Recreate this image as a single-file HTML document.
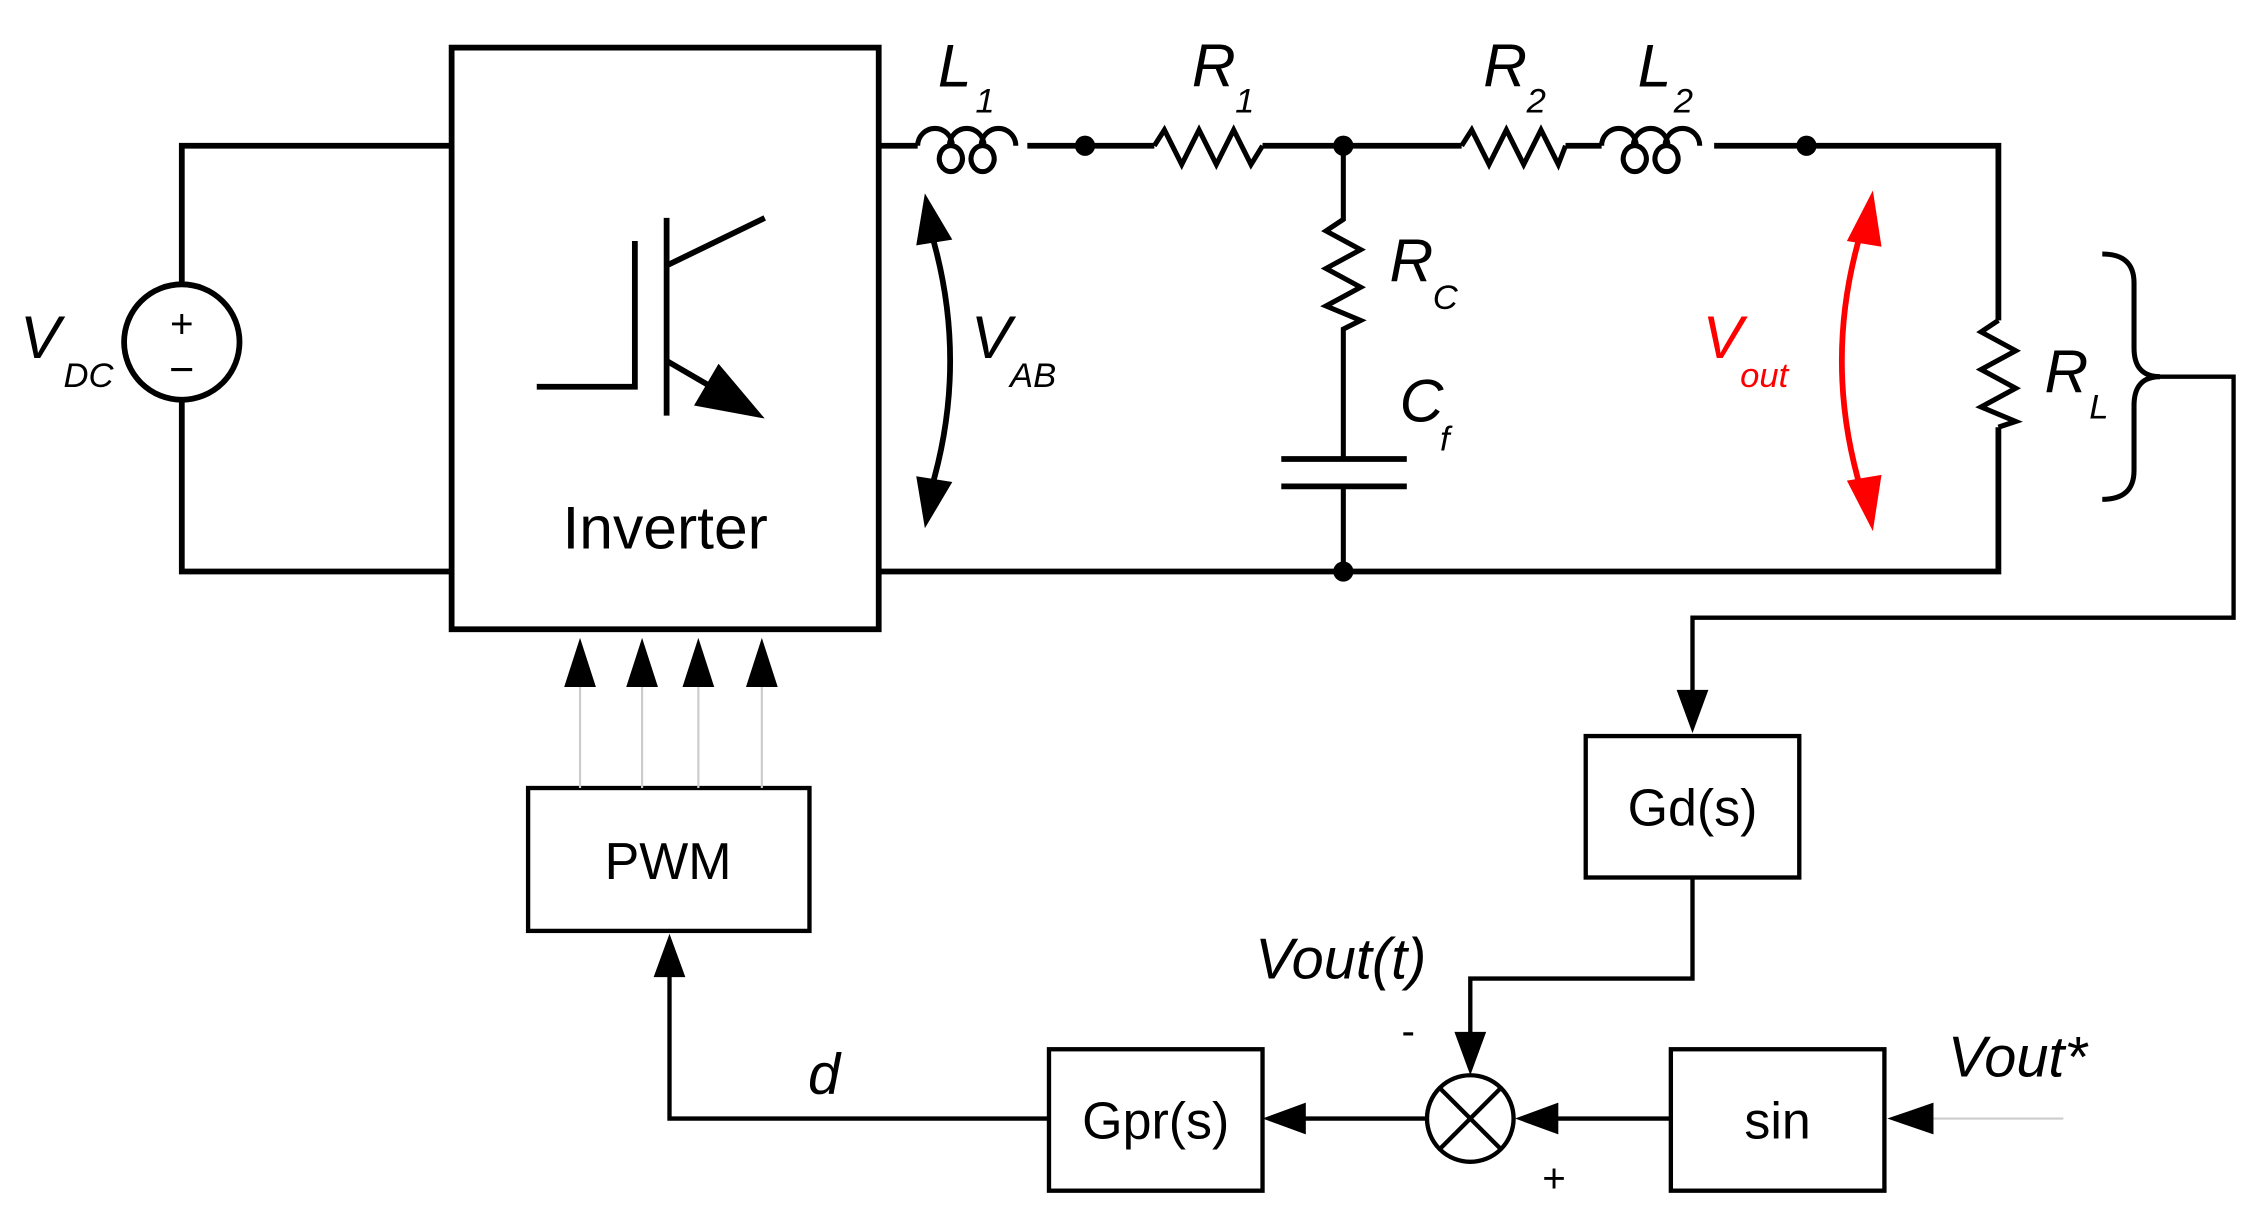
<!DOCTYPE html>
<html><head><style>html,body{margin:0;padding:0;background:#fff}svg{display:block}</style></head><body>
<svg width="2261" height="1221" viewBox="0 0 1567 846" preserveAspectRatio="none" xmlns="http://www.w3.org/2000/svg" font-family="Liberation Sans, sans-serif">
<g fill="none" stroke="#000" stroke-width="4">
<rect x="313" y="33" width="296" height="403"/>
<path d="M313,101 H126 V197 M126,277 V396 H313"/>
<circle cx="126" cy="237" r="40"/>
<path d="M372,268 H440 V167 M462,151 V288 M462,184 L530,151 M462,250 L505,275"/>
<path d="M609,101 H636 M712,101 H800 M875,101 H1013 M1085,101 H1110 M1188,101 H1385 V222 M1385,296 V396 H609"/>
<path d="M636,101 a12,12 0 1 1 24,0 a8,9 0 1 1 -2,0 a12,12 0 1 1 24,0 a8,9 0 1 1 -2,0 a12,12 0 1 1 24,0" stroke-width="3.5"/>
<path d="M1110,101 a12,12 0 1 1 24,0 a8,9 0 1 1 -2,0 a12,12 0 1 1 24,0 a8,9 0 1 1 -2,0 a12,12 0 1 1 24,0" stroke-width="3.5"/>
<path d="M800,101 L807,90 L819,114 L831,90 L843,114 L855,90 L867,114 L875,101" stroke-width="3.5"/>
<path d="M1013,101 L1020,90 L1032,114 L1044,90 L1056,114 L1068,90 L1080,114 L1085,101" stroke-width="3.5"/>
<path d="M1385,222 L1373,230 L1397,243 L1373,256 L1397,269 L1373,282 L1397,292 L1385,296" stroke-width="3.5"/>
<path d="M931,101 V152 L919,160 L943,173 L919,186 L943,199 L919,212 L943,222 L931,228 V318 M931,337 V396" stroke-width="3.5"/>
<path d="M888,318 H975 M888,337 H975"/>
<path d="M1457,176 q22,0 22,20 v45 q0,20 18,20 q-18,0 -18,20 v45 q0,20 -22,20" stroke-width="3.5"/>
<path d="M1497,261 H1548 V428 H1173 V495" stroke-width="3"/>
<rect x="1099" y="510" width="148" height="98" stroke-width="3"/>
<rect x="1158" y="727" width="148" height="98" stroke-width="3"/>
<rect x="727" y="727" width="148" height="98" stroke-width="3"/>
<rect x="366" y="546" width="195" height="99" stroke-width="3"/>
<circle cx="1019" cy="775" r="30" stroke-width="3"/>
<path d="M998,754 L1040,796 M1040,754 L998,796" stroke-width="3"/>
<path d="M1173,608 V678 H1019 V730" stroke-width="3"/>
<path d="M1158,775 H1070" stroke-width="3"/>
<path d="M989,775 H895" stroke-width="3"/>
<path d="M727,775 H464 V670" stroke-width="3"/>
<path d="M645,160 Q672,250 645,340" stroke-width="4"/>
</g>
<path d="M1430,775 H1330" stroke="#ccc" stroke-width="1.5"/>
<g stroke="#ccc" stroke-width="1.5"><path d="M402,546 V470 M445,546 V470 M484,546 V470 M528,546 V470"/></g>
<g fill="#000">
<path d="M530,290 L481,281 L498,252z"/>
<circle cx="752" cy="101" r="7"/><circle cx="931" cy="101" r="7"/><circle cx="1252" cy="101" r="7"/><circle cx="931" cy="396" r="7"/>
<path d="M1162,478 L1184,478 L1173,508z"/>
<path d="M1008,715 L1030,715 L1019,745z"/>
<path d="M1080,764 L1080,786 L1050,775z"/>
<path d="M905,764 L905,786 L875,775z"/>
<path d="M453,677 L475,677 L464,647z"/>
<path d="M1340,764 L1340,786 L1308,775z"/>
<path d="M391,476 L413,476 L402,442z"/><path d="M434,476 L456,476 L445,442z"/><path d="M473,476 L495,476 L484,442z"/><path d="M517,476 L539,476 L528,442z"/>
<path d="M641,134 L635,170 L660,166z"/><path d="M641,366 L635,330 L660,334z"/>
</g>
<path d="M1290,160 Q1263,250 1290,340" fill="none" stroke="#f00" stroke-width="4"/>
<path d="M1298,132 L1280,167 L1304,171z M1298,368 L1280,333 L1304,329z" fill="#f00"/>
<g font-size="42" font-style="italic">
<text x="14" y="248">V</text><text x="44" y="268" font-size="24">DC</text>
<text x="650" y="60">L</text><text x="676" y="78" font-size="24">1</text>
<text x="826" y="60">R</text><text x="856" y="78" font-size="24">1</text>
<text x="1028" y="60">R</text><text x="1058" y="78" font-size="24">2</text>
<text x="1135" y="60">L</text><text x="1160" y="78" font-size="24">2</text>
<text x="963" y="195">R</text><text x="993" y="214" font-size="24">C</text>
<text x="970" y="292">C</text><text x="998" y="312" font-size="24">f</text>
<text x="673" y="248">V</text><text x="700" y="268" font-size="24">AB</text>
<text x="1180" y="248" fill="#f00">V</text><text x="1206" y="268" font-size="24" fill="#f00">out</text>
<text x="1417" y="272">R</text><text x="1448" y="290" font-size="24">L</text>
<text x="870" y="678" font-size="40">Vout(t)</text>
<text x="1350" y="746" font-size="40">Vout*</text>
<text x="560" y="758" font-size="40">d</text>
</g>
<g font-size="36" text-anchor="middle">
<text x="461" y="380" font-size="42">Inverter</text>
<text x="1173" y="572">Gd(s)</text>
<text x="1232" y="789">sin</text>
<text x="801" y="789">Gpr(s)</text>
<text x="463" y="609">PWM</text>
<text x="976" y="724" font-size="28">-</text>
<text x="1077" y="826" font-size="28">+</text>
<text x="126" y="234" font-size="28">+</text>
<text x="126" y="266" font-size="30">−</text>
</g>
</svg>
</body></html>
